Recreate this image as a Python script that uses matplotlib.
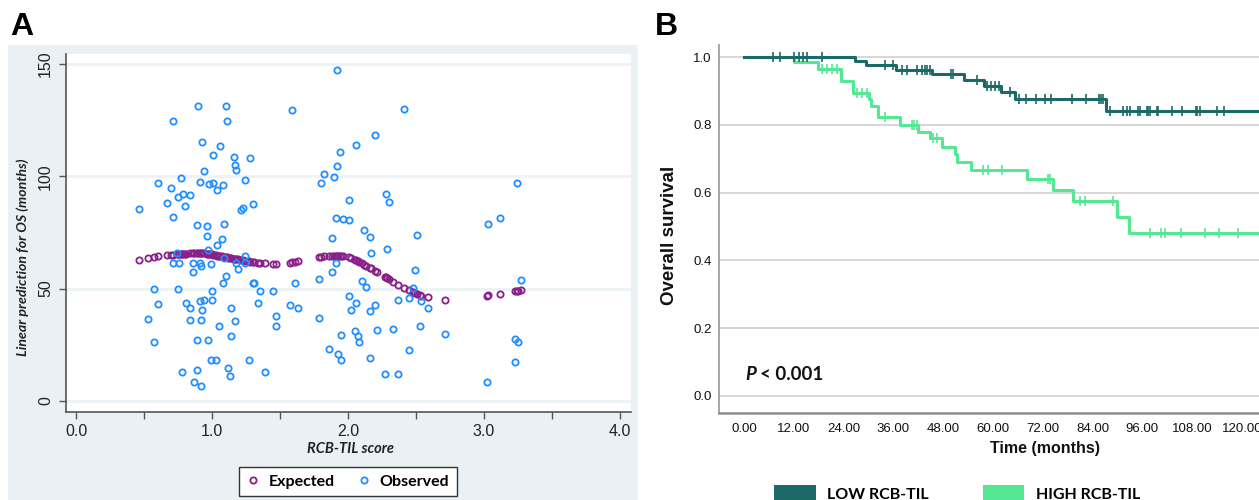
import numpy as np
import matplotlib
matplotlib.use('Agg')
import matplotlib.pyplot as plt
from matplotlib.patches import Rectangle, Patch
from matplotlib.lines import Line2D
from matplotlib.ticker import FuncFormatter

# ---- panel A data: RCB-TIL score vs OS (months) ----
obs_x = [0.46, 0.53, 0.57, 0.57, 0.60, 0.60, 0.67, 0.70, 0.71, 0.71, 0.71, 0.74, 0.75, 0.75,
         0.76, 0.77, 0.78, 0.79, 0.80, 0.81, 0.84, 0.84, 0.84, 0.86, 0.86, 0.87, 0.89, 0.89,
         0.89, 0.90, 0.91, 0.91, 0.91, 0.92, 0.92, 0.92, 0.93, 0.93, 0.94, 0.94, 0.96, 0.96,
         0.97, 0.97, 0.98, 0.99, 0.99, 1.00, 1.00, 1.01, 1.01, 1.03, 1.04, 1.04, 1.05, 1.06,
         1.07, 1.08, 1.08, 1.09, 1.09, 1.10, 1.10, 1.11, 1.12, 1.13, 1.14, 1.14, 1.16, 1.17,
         1.17, 1.18, 1.18, 1.19, 1.21, 1.23, 1.24, 1.24, 1.24, 1.27, 1.28, 1.30, 1.31, 1.30,
         1.34, 1.35, 1.39, 1.45, 1.47, 1.47, 1.57, 1.59, 1.61, 1.63, 1.79, 1.79, 1.80, 1.82,
         1.86, 1.88, 1.88, 1.90, 1.91, 1.91, 1.92, 1.92, 1.93, 1.94, 1.95, 1.95, 1.96, 2.01,
         2.01, 2.01, 2.02, 2.05, 2.06, 2.06, 2.07, 2.08, 2.10, 2.12, 2.13, 2.16, 2.16, 2.16,
         2.17, 2.20, 2.20, 2.21, 2.27, 2.28, 2.29, 2.30, 2.33, 2.37, 2.37, 2.41, 2.45, 2.45,
         2.48, 2.49, 2.51, 2.53, 2.54, 2.59, 2.71, 3.02, 3.03, 3.12, 3.23, 3.24, 3.23, 3.25,
         3.27]
obs_y = [85.4, 36.5, 49.6, 26.3, 96.9, 43.3, 87.9, 94.8, 124.6, 81.9, 61.4, 65.9, 90.8, 49.8,
         61.4, 99.2, 13.0, 92.3, 86.6, 43.8, 91.5, 41.3, 35.9, 61.4, 57.2, 8.3, 13.9, 27.3,
         78.3, 131.2, 97.4, 61.2, 44.3, 59.9, 36.0, 6.8, 115.1, 40.4, 102.4, 44.8, 78.0, 73.4,
         67.1, 26.9, 96.4, 60.8, 18.2, 44.7, 49.0, 96.9, 109.5, 18.2, 94.0, 69.5, 33.5, 113.4,
         72.0, 96.1, 52.5, 78.6, 63.4, 131.2, 55.7, 124.6, 14.6, 11.3, 41.5, 28.8, 108.6, 104.9,
         35.6, 102.7, 61.4, 58.7, 84.9, 85.9, 98.5, 64.7, 61.4, 18.4, 108.1, 52.5, 52.5, 87.5,
         43.5, 48.9, 12.7, 49.1, 37.6, 33.2, 42.6, 129.6, 52.5, 41.5, 54.2, 37.1, 97.2, 100.9,
         23.0, 72.5, 57.3, 99.7, 81.6, 61.5, 147.4, 104.6, 20.8, 110.6, 29.2, 18.4, 80.9, 89.5,
         80.3, 46.9, 40.6, 31.3, 113.9, 43.5, 28.8, 26.3, 53.3, 76.0, 50.9, 73.1, 39.9, 19.3,
         66.0, 118.4, 42.9, 31.5, 12.0, 92.0, 67.5, 88.4, 32.0, 11.9, 45.1, 130.1, 45.8, 22.7,
         50.3, 58.4, 74.0, 33.5, 44.4, 41.5, 30.0, 8.3, 78.8, 81.4, 17.4, 97.2, 27.5, 26.1,
         53.7]

exp_x = [0.46, 0.53, 0.57, 0.60, 0.67, 0.70, 0.71, 0.74, 0.75, 0.76, 0.77, 0.78, 0.79, 0.80,
         0.81, 0.84, 0.86, 0.87, 0.89, 0.90, 0.91, 0.92, 0.93, 0.94, 0.96, 0.97, 0.98, 0.99,
         1.00, 1.01, 1.03, 1.04, 1.05, 1.06, 1.07, 1.08, 1.09, 1.10, 1.11, 1.12, 1.13, 1.14,
         1.16, 1.17, 1.18, 1.19, 1.21, 1.23, 1.24, 1.27, 1.28, 1.30, 1.31, 1.34, 1.35, 1.39,
         1.45, 1.47, 1.57, 1.59, 1.61, 1.63, 1.79, 1.80, 1.82, 1.86, 1.88, 1.90, 1.91, 1.92,
         1.93, 1.94, 1.95, 1.96, 2.01, 2.02, 2.05, 2.06, 2.07, 2.08, 2.10, 2.12, 2.13, 2.16,
         2.17, 2.20, 2.21, 2.27, 2.28, 2.29, 2.30, 2.33, 2.37, 2.41, 2.45, 2.48, 2.49, 2.51,
         2.53, 2.54, 2.59, 2.71, 3.02, 3.03, 3.12, 3.23, 3.24, 3.25, 3.27]
exp_y = [62.8, 63.5, 64.0, 64.3, 64.8, 65.0, 65.0, 65.2, 65.3, 65.3, 65.4, 65.4, 65.5, 65.5,
         65.6, 65.7, 65.7, 65.8, 65.8, 65.8, 65.8, 65.8, 65.7, 65.7, 65.6, 65.5, 65.4, 65.3,
         65.2, 65.1, 64.9, 64.7, 64.6, 64.5, 64.4, 64.2, 64.1, 64.0, 63.9, 63.8, 63.7, 63.6,
         63.3, 63.2, 63.1, 63.0, 62.8, 62.6, 62.4, 62.1, 62.0, 61.9, 61.8, 61.6, 61.5, 61.3,
         61.1, 61.1, 61.5, 61.7, 61.9, 62.1, 64.1, 64.2, 64.4, 64.5, 64.6, 64.6, 64.6, 64.5,
         64.5, 64.5, 64.4, 64.4, 63.9, 63.6, 62.8, 62.5, 62.2, 61.9, 61.4, 60.6, 60.2, 59.3,
         59.0, 57.9, 57.5, 55.3, 55.0, 54.6, 54.2, 53.0, 51.6, 50.3, 49.3, 48.3, 48.0, 47.5,
         47.1, 46.8, 46.1, 45.1, 46.9, 47.0, 47.7, 48.9, 49.0, 49.1, 49.3]

# ---- panel B data: Kaplan-Meier steps (months, survival) ----
low_times = [0, 26.7, 29.4, 36.6, 45.3, 53.0, 57.8, 61.9, 65.3, 87.2, 126]
low_surv = [1.0, 0.990, 0.977, 0.962, 0.950, 0.933, 0.915, 0.897, 0.876, 0.841, 0.841]
low_cens = [7.1, 8.7, 12.0, 13.3, 14.2, 15.1, 18.8, 34.0, 35.8, 38.0, 39.2, 41.6, 42.8, 43.6,
            44.2, 44.8, 49.8, 50.4, 56.2, 58.5, 59.4, 60.5, 61.5, 64.1, 66.3, 68.0, 70.3, 72.5,
            74.0, 79.0, 82.4, 85.6, 86.0, 86.4, 88.2, 91.4, 92.2, 93.0, 95.0, 95.4, 97.0, 97.4,
            97.8, 99.4, 99.8, 103.1, 105.6, 108.8, 109.2, 110.0, 114.0, 115.7]

high_times = [0, 12.0, 17.8, 23.3, 26.3, 30.0, 30.5, 32.2, 37.6, 42.0, 44.8, 47.6, 50.8, 51.3,
              54.7, 68.1, 74.5, 79.3, 90.0, 92.8, 126]
high_surv = [1.0, 0.985, 0.965, 0.931, 0.895, 0.876, 0.856, 0.823, 0.800, 0.780, 0.762, 0.736,
             0.714, 0.692, 0.667, 0.640, 0.608, 0.575, 0.527, 0.480, 0.480]
high_cens = [18.7, 19.9, 21.1, 22.3, 27.2, 28.4, 29.6, 34.0, 40.4, 41.0, 41.6, 45.6, 46.4, 57.6,
             58.8, 62.1, 73.3, 73.7, 81.0, 82.2, 89.0, 97.8, 100.4, 101.5, 105.2, 111.1, 114.5,
             119.1]

x_ticks_b = [0, 12, 24, 36, 48, 60, 72, 84, 96, 108, 120]

purple = '#8a2089'
blue = '#1f8fff'
dark_teal = '#1b6a67'
light_green = '#55e894'

W, H = 1259, 500


def fx(px):
    return px / W


def fy(py):
    return 1 - py / H


fig = plt.figure(figsize=(12.59, 5.0), dpi=100)
fig.patches.append(Rectangle((fx(8), 0), fx(637.7) - fx(8), fy(45), transform=fig.transFigure,
                             facecolor='#eaf1f4', edgecolor='none', zorder=-5))

# ---------------- panel A ----------------
axA = fig.add_axes([fx(65.7), fy(411.7), fx(630.7) - fx(65.7), fy(54) - fy(411.7)])
axA.set_zorder(1)
axA.set_facecolor('white')
axA.plot(exp_x, exp_y, ls='none', marker='o', ms=4.5, mfc='none', mec=purple, mew=1.3, zorder=3)
axA.plot(obs_x, obs_y, ls='none', marker='o', ms=4.5, mfc='none', mec=blue, mew=1.3, zorder=4)
axA.set_xlim(-0.076, 4.079)
axA.set_ylim(-4.8, 154.4)
axA.set_yticks([0, 50, 100, 150])
axA.set_xticks(np.arange(0, 4.01, 0.5))
axA.xaxis.set_major_formatter(FuncFormatter(lambda v, p: '%.1f' % v if abs(v - round(v)) < 1e-6 else ''))
axA.grid(axis='y', color='#edf3f5', lw=2)
axA.set_axisbelow(True)
for s in ['top', 'right']:
    axA.spines[s].set_visible(False)
for s in ['left', 'bottom']:
    axA.spines[s].set_color('#555555')
    axA.spines[s].set_linewidth(1.2)
axA.tick_params(axis='both', length=5, width=1, color='#555555', labelsize=11.5, labelcolor='#222222')
axA.tick_params(axis='x', pad=3.5)
axA.tick_params(axis='y', pad=4)
for lab in axA.get_yticklabels():
    lab.set_rotation(90)
    lab.set_va('center')
    lab.set_family('Liberation Sans')
for lab in axA.get_xticklabels():
    lab.set_family('Liberation Sans')

fig.text(fx(350.7), fy(449.3), 'RCB-TIL score', ha='center', va='center', family='Lato',
         weight='bold', style='italic', size=10.5, color='#222222')
fig.text(fx(22.5), fy(257), 'Linear prediction for OS (months)', ha='center', va='center',
         rotation=90, family='Lato', weight='bold', style='italic', size=10.2, color='#222222')

legA = fig.legend(handles=[Line2D([], [], ls='none', marker='o', ms=4.5, mfc='none', mec=purple, mew=1.3),
                           Line2D([], [], ls='none', marker='o', ms=4.5, mfc='none', mec=blue, mew=1.3)],
                  labels=['Expected', 'Observed'], ncol=2, loc='center',
                  bbox_to_anchor=(fx(348), fy(481.7)), frameon=True, fancybox=False,
                  edgecolor='#333333', framealpha=1, handlelength=0.8, handletextpad=0.6,
                  columnspacing=1.4, borderpad=0.45,
                  prop=dict(family='Lato', weight='bold', size=11.5))
legA.get_frame().set_linewidth(1.0)

fig.text(fx(10), fy(27), 'A', ha='left', va='center', size=23, weight='bold', family='Liberation Sans')
fig.text(fx(655), fy(27), 'B', ha='left', va='center', size=23, weight='bold', family='Liberation Sans')

# ---------------- panel B ----------------
axB = fig.add_axes([fx(718.7), fy(413.3), 1 - fx(718.7), fy(45) - fy(413.3)])
axB.step(high_times, high_surv, where='post', color=light_green, lw=2.2, zorder=3)
axB.step(low_times, low_surv, where='post', color=dark_teal, lw=2.2, zorder=4)

hi_t = np.array(high_times)
hi_s = np.array(high_surv)
lo_t = np.array(low_times)
lo_s = np.array(low_surv)
hc = np.array(high_cens)
lc = np.array(low_cens)
axB.plot(hc, hi_s[np.searchsorted(hi_t, hc, side='right') - 1], ls='none', marker='|',
         ms=7, mew=1.2, color=light_green, zorder=3)
axB.plot(lc, lo_s[np.searchsorted(lo_t, lc, side='right') - 1], ls='none', marker='|',
         ms=7, mew=1.2, color=dark_teal, zorder=4)

axB.set_xlim(-6.1, 124.1)
axB.set_ylim(-0.0517, 1.0363)
axB.set_yticks([0, 0.2, 0.4, 0.6, 0.8, 1.0])
axB.set_yticklabels(['0.0', '0.2', '0.4', '0.6', '0.8', '1.0'])
axB.set_xticks(x_ticks_b)
axB.set_xticklabels(['%.2f' % t for t in x_ticks_b])
axB.grid(axis='y', color='#d4d4d4', lw=1.3)
axB.set_axisbelow(True)
for s in ['top', 'right']:
    axB.spines[s].set_visible(False)
axB.spines['left'].set_color('#a0a0a0')
axB.spines['left'].set_linewidth(1.3)
axB.spines['bottom'].set_color('#8c8c8c')
axB.spines['bottom'].set_linewidth(1.8)
axB.tick_params(axis='both', length=0, labelsize=9.5, labelcolor='#111111')
axB.tick_params(axis='y', pad=5)
axB.tick_params(axis='x', pad=7)
for lab in axB.get_xticklabels() + axB.get_yticklabels():
    lab.set_family('Liberation Sans')

fig.text(fx(669), fy(235.5), 'Overall survival', rotation=90, ha='center', va='center',
         family='Liberation Sans', weight='bold', size=13.5, color='#111111')
fig.text(fx(1045.3), fy(448.3), 'Time (months)', ha='center', va='center',
         family='Liberation Sans', weight='bold', size=11.5, color='#111111')
fig.text(fx(745), fy(375), 'P', ha='left', va='center', family='Lato', weight='bold',
         style='italic', size=13.5, color='#111111')
fig.text(fx(760), fy(375), '< 0.001', ha='left', va='center', family='Lato', weight='bold',
         size=13.5, color='#111111')

legB = fig.legend(handles=[Patch(facecolor=dark_teal, edgecolor='none'),
                           Patch(facecolor=light_green, edgecolor='none')],
                  labels=['LOW RCB-TIL', 'HIGH RCB-TIL'], ncol=2, loc='center',
                  bbox_to_anchor=(fx(957), fy(494)), frameon=False, handlelength=2.6,
                  handleheight=1.3, handletextpad=0.7, columnspacing=3.4,
                  prop=dict(family='Lato', weight='bold', size=11.5))

fig.savefig('out.png', dpi=100)
